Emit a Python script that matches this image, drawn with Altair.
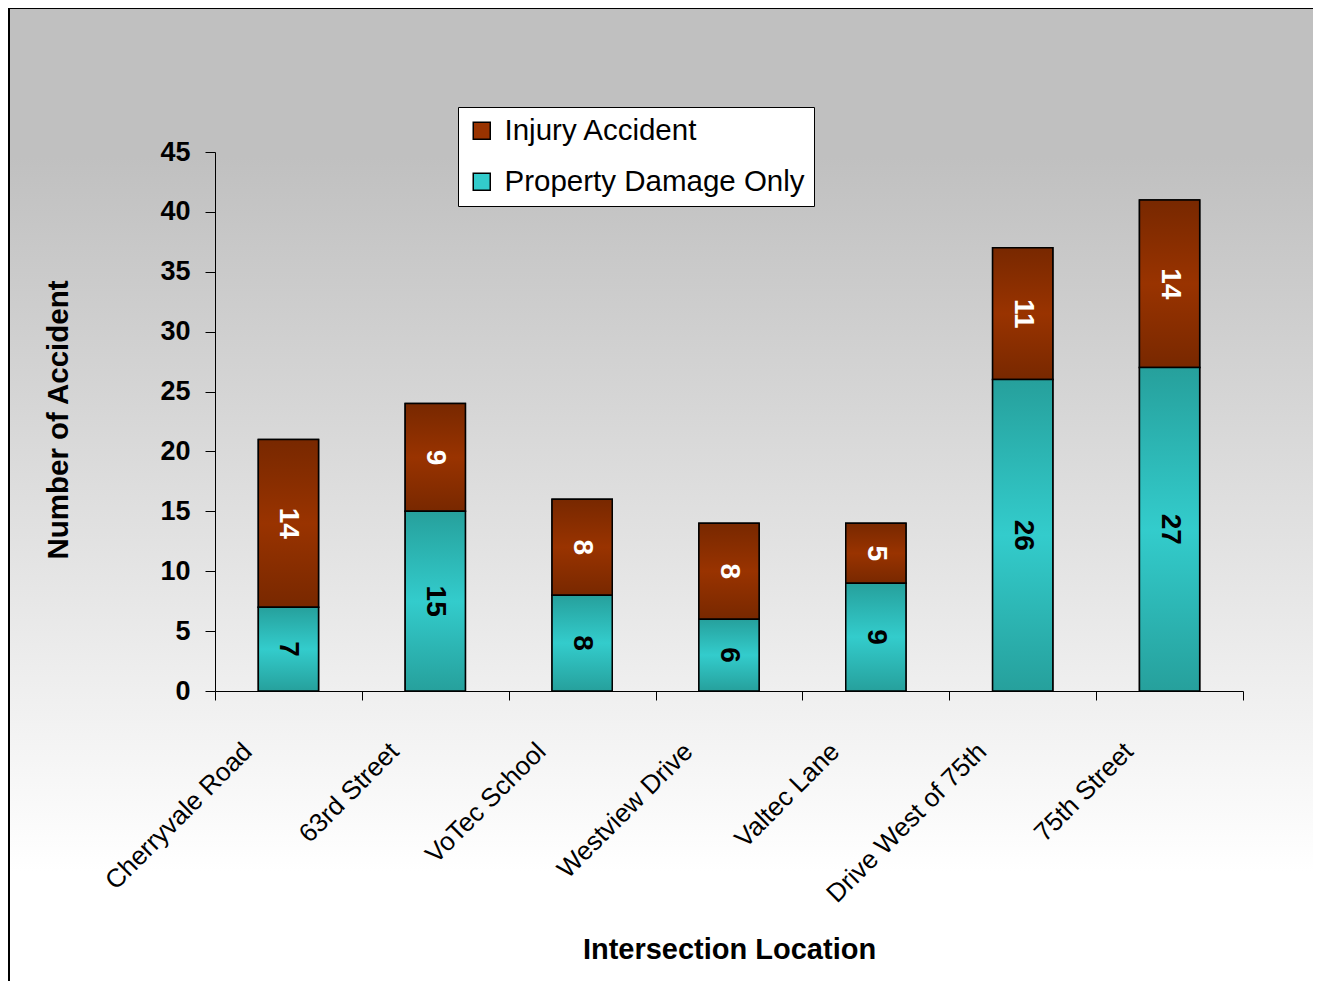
import altair as alt
import pandas as pd

locations = ["Cherryvale Road", "63rd Street", "VoTec School", "Westview Drive",
             "Valtec Lane", "Drive West of 75th", "75th Street"]
property_damage = [7, 15, 8, 6, 9, 26, 27]
injury = [14, 9, 8, 8, 5, 11, 14]
series = ["Injury Accident", "Property Damage Only"]
y_ticks = [0, 5, 10, 15, 20, 25, 30, 35, 40, 45]

rows = []
for loc, p, i in zip(locations, property_damage, injury):
    rows.append({"loc": loc, "type": series[1], "count": p, "y0": 0, "y1": p, "mid": p / 2})
    rows.append({"loc": loc, "type": series[0], "count": i, "y0": p, "y1": p + i, "mid": p + i / 2})
df = pd.DataFrame(rows)

W, H = 1028, 539
PL, PT, PR, PB = 207, 144, 70, 290

FONT = "Liberation Sans"

x_enc = alt.X("loc:N", sort=locations,
              scale=alt.Scale(paddingInner=0, paddingOuter=0),
              axis=alt.Axis(title="Intersection Location", labelAngle=-45, labelAlign="right",
                            labelBaseline="middle", labelFontSize=26, labelFont=FONT,
                            labelColor="black", labelOffset=-41, labelPadding=47,
                            labelLimit=0, tickBand="extent", tickSize=9, tickColor="black",
                            domainColor="black", titleFontSize=29, titleFont=FONT,
                            titleFontWeight="bold", titleColor="black", titleX=W / 2,
                            titleY=258, titleBaseline="middle", zindex=1))
y_scale = alt.Scale(domain=[0, 45], nice=False)
y_axis = alt.Axis(title="Number of Accident", values=y_ticks, grid=False, tickSize=10,
                  tickColor="black", domainColor="black", labelFontSize=27, labelFont=FONT,
                  labelFontWeight="bold", labelColor="black", labelPadding=15,
                  titleFontSize=29.5, titleFont=FONT, titleFontWeight="bold", titleColor="black",
                  titleX=-157, titleY=H / 2 - 2, titleAngle=-90, titleBaseline="middle",
                  titleAlign="center", zindex=1)

def grad(edge, mid):
    return alt.LinearGradient(gradient="linear", x1=0, x2=0, y1=0, y2=1,
                              stops=[alt.GradientStop(color=edge, offset=0),
                                     alt.GradientStop(color=mid, offset=0.5),
                                     alt.GradientStop(color=edge, offset=1)])

bg_grad = alt.LinearGradient(gradient="linear", x1=0, x2=0, y1=0, y2=1,
                             stops=[alt.GradientStop(color="#c0c0c0", offset=0),
                                    alt.GradientStop(color="#c0c0c0", offset=0.15),
                                    alt.GradientStop(color="#ffffff", offset=0.87),
                                    alt.GradientStop(color="#ffffff", offset=1)])

background = alt.Chart(pd.DataFrame({"a": [0]})).mark_rect(
    fill=bg_grad, stroke="black", strokeWidth=2
).encode(x=alt.value(-PL + 1), x2=alt.value(W + PR + 20),
         y=alt.value(-PT), y2=alt.value(H + PB + 20))

base = alt.Chart(df)

legend_bars = base.mark_bar(stroke="black", strokeWidth=1.5,
                            width=alt.RelativeBandSize(0.41)).encode(
    x=x_enc,
    y=alt.Y("y0:Q", scale=y_scale, axis=y_axis),
    y2="y1:Q",
    color=alt.Color("type:N", scale=alt.Scale(domain=series, range=["#993300", "#33cccc"]),
                    legend=alt.Legend(title=None, orient="none", legendX=243, legendY=-45,
                                      fillColor="white", strokeColor="black", padding=9,
                                      labelFontSize=29.5, labelFont=FONT, labelColor="black",
                                      symbolType="square", symbolSize=289,
                                      symbolStrokeColor="black", symbolStrokeWidth=1.5,
                                      labelOffset=8, rowPadding=20, labelLimit=0))
)

inj_bars = base.transform_filter(alt.datum.type == series[0]).mark_bar(
    fill=grad("#782800", "#993300"), stroke="black", strokeWidth=1.5,
    width=alt.RelativeBandSize(0.41)).encode(x=alt.X("loc:N", sort=locations), y="y0:Q", y2="y1:Q")

prop_bars = base.transform_filter(alt.datum.type == series[1]).mark_bar(
    fill=grad("#26a09c", "#33cccc"), stroke="black", strokeWidth=1.5,
    width=alt.RelativeBandSize(0.41)).encode(x=alt.X("loc:N", sort=locations), y="y0:Q", y2="y1:Q")

labels = base.mark_text(angle=90, font=FONT, fontSize=28, fontWeight="bold",
                        align="center", baseline="middle").encode(
    x=alt.X("loc:N", sort=locations),
    y="mid:Q",
    text="count:Q",
    color=alt.condition(alt.datum.type == series[0], alt.value("white"), alt.value("black"))
)

chart = alt.layer(background, legend_bars, inj_bars, prop_bars, labels).properties(
    width=W, height=H,
    autosize=alt.AutoSizeParams(type="none"),
    padding={"left": PL, "top": PT, "right": PR, "bottom": PB},
    background="white"
).configure_view(stroke=None)

chart.save("out.html", embed_options={"renderer": "svg", "actions": False})
